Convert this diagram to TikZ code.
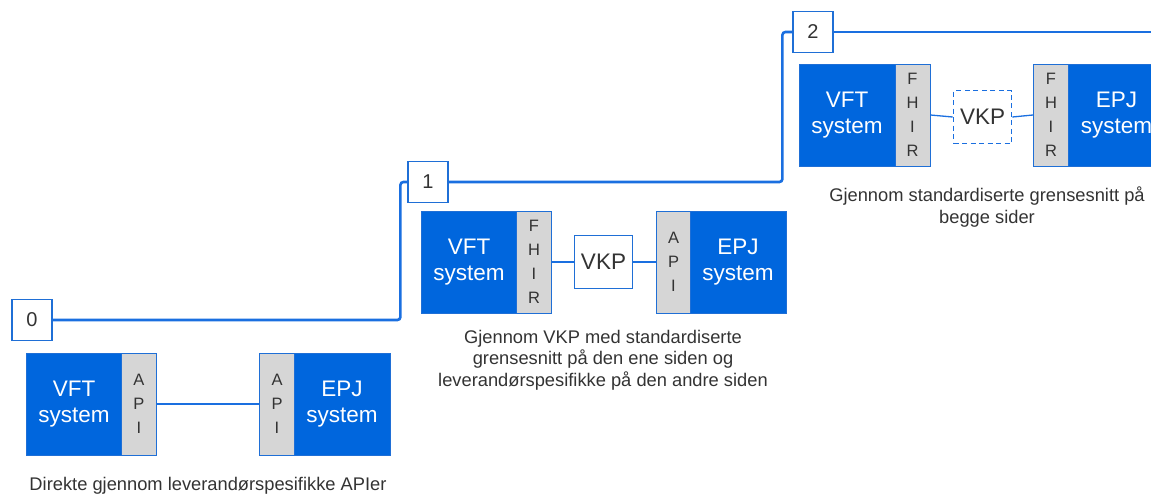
\documentclass[tikz,border=0pt]{standalone}
\usepackage{fontspec}
\setmainfont{Liberation Sans}
\definecolor{sysblue}{HTML}{0066DD}
\definecolor{edgeblue}{HTML}{1F6FD6}
\definecolor{linkblue}{HTML}{1A6FE0}
\definecolor{stripgray}{HTML}{D6D6D6}
\definecolor{txtgray}{HTML}{333333}
\tikzset{
  sysbox/.style={draw=edgeblue, line width=1pt, fill=sysblue, text=white, minimum width=96pt, minimum height=102pt, inner sep=0pt, align=center, font=\fontsize{22.5}{25.5}\selectfont},
  stripbox/.style={draw=edgeblue, line width=1pt, fill=stripgray, text=txtgray, minimum width=35pt, minimum height=102pt, inner sep=0pt, align=center, font=\fontsize{16.5}{24}\selectfont},
  vkpbox/.style={draw=edgeblue, line width=1.2pt, fill=white, text=txtgray, minimum width=58pt, minimum height=53pt, inner sep=0pt, font=\fontsize{22.5}{25.5}\selectfont},
  numbox/.style={draw=edgeblue, line width=1.2pt, fill=white, text=txtgray, minimum width=40pt, minimum height=41pt, inner sep=0pt, font=\fontsize{20}{24}\selectfont},
  caption/.style={text=txtgray, align=center, inner sep=0pt, font=\fontsize{18.3}{21.5}\selectfont},
  link/.style={draw=linkblue, line width=1.3pt},
  track/.style={draw=linkblue, line width=2.6pt, rounded corners=3pt},
}
\begin{document}
\begin{tikzpicture}[x=1pt, y=-1pt]
\useasboundingbox (0,0) rectangle (1151,493);
\clip (0,0) rectangle (1151,493);

% step headers and track
\node[numbox] (n0) at (32,320) {0};
\node[numbox] (n1) at (428,182) {1};
\node[numbox] (n2) at (813,32) {2};
\coordinate (tend) at (1160,32);
\draw[track] (n0.east) -| ([xshift=-7pt]n1.west) -- (n1.west);
\draw[track] (n1.east) -| ([xshift=-10pt]n2.west) -- (n2.west);
\draw[track] (n2.east) -- (tend);

% group 0
\node[sysbox] (vft0) at (74,404) {VFT\\system};
\node[stripbox] (api0a) at (139,404) {A\\P\\I};
\node[stripbox] (api0b) at (277,404) {A\\P\\I};
\node[sysbox] (epj0) at (342,404) {EPJ\\system};
\draw[link] (api0a.east) -- (api0b.west);
\node[caption, anchor=base] (cap0) at (208,490) {Direkte gjennom leverandørspesifikke APIer};

% group 1
\node[sysbox] (vft1) at (469,262) {VFT\\system};
\node[stripbox] (fhir1) at (534,262) {F\\H\\I\\R};
\node[vkpbox] (vkp1) at (603.5,262) {VKP};
\node[stripbox] (api1) at (673.5,262) {A\\P\\I};
\node[sysbox] (epj1) at (738,262) {EPJ\\system};
\draw[link] (fhir1.east) -- (vkp1.west);
\draw[link] (vkp1.east) -- (api1.west);
\node[caption, anchor=north] (cap1) at (603,330) {Gjennom VKP med standardiserte\\grensesnitt på den ene siden og\\leverandørspesifikke på den andre siden};

% group 2
\node[sysbox] (vft2) at (847,115) {VFT\\system};
\node[stripbox] (fhir2a) at (912.5,115) {F\\H\\I\\R};
\node[vkpbox, draw=linkblue, line width=1.6pt, dash pattern=on 5pt off 3.5pt] (vkp2) at (982.5,117) {VKP};
\node[stripbox] (fhir2b) at (1051,115) {F\\H\\I\\R};
\node[sysbox] (epj2) at (1116.5,115) {EPJ\\system};
\draw[link] (fhir2a.east) -- (vkp2.west);
\draw[link] (vkp2.east) -- (fhir2b.west);
\node[caption, anchor=north] (cap2) at (987,187) {Gjennom standardiserte grensesnitt på\\begge sider};
\end{tikzpicture}
\end{document}
